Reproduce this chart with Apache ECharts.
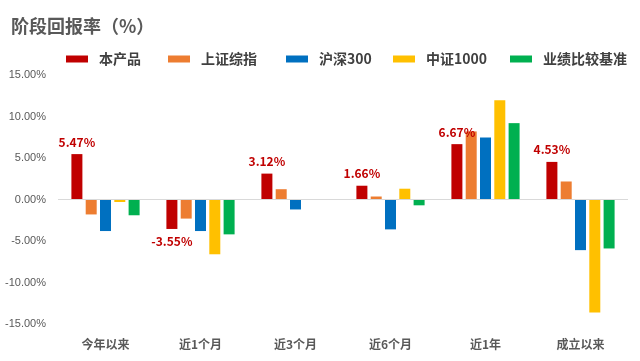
<!DOCTYPE html>
<html><head><meta charset="utf-8">
<script src="https://cdn.jsdelivr.net/npm/echarts@6/dist/echarts.min.js"></script>
<style>html,body{margin:0;padding:0;background:#fff}#c{width:640px;height:361px}</style>
</head><body><div id="c"></div>
<script>
const categories = ['今年以来','近1个月','近3个月','近6个月','近1年','成立以来'];
const seriesNames = ['本产品','上证综指','沪深300','中证1000','业绩比较基准'];
const product = [5.47, -3.55, 3.12, 1.66, 6.67, 4.53];
const shIndex = [-1.8, -2.3, 1.24, 0.36, 8.2, 2.17];
const hs300 = [-3.8, -3.8, -1.2, -3.6, 7.47, -6.1];
const zz1000 = [-0.3, -6.6, 0, 1.3, 11.96, -13.6];
const benchmark = [-1.9, -4.2, 0, -0.7, 9.2, -5.9];
const yTicks = {min: -15, max: 15, interval: 5};
const colors = ['#C00000','#ED7D31','#0070C0','#FFC000','#00B050'];
const allData = [product, shIndex, hs300, zz1000, benchmark];
const legendLefts = [61, 163, 281, 388, 505];
const font = '"Noto Sans CJK SC", "Microsoft YaHei", sans-serif';

const series = allData.map((d, i) => {
  const s = {
    name: seriesNames[i], type: 'bar', data: d, barWidth: 11, barGap: '30%',
    itemStyle: {color: colors[i]}
  };
  if (i === 0) {
    s.label = {
      show: true, color: '#C00000', fontWeight: 'bold', fontSize: 12, fontFamily: font,
      position: 'top', distance: 6,
      formatter: p => p.value.toFixed(2) + '%'
    };
    s.data = d.map(v => ({value: v, label: {position: v < 0 ? 'bottom' : 'top'}}));
    s.markLine = {silent: true, symbol: 'none', label: {show: false},
      lineStyle: {color: '#d9d9d9', type: 'solid', width: 1}, data: [{yAxis: 0}]};
  }
  return s;
});

const legends = seriesNames.map((n, i) => ({
  data: [n], left: legendLefts[i], top: 47, itemWidth: 22, itemHeight: 7, icon: 'rect',
  textStyle: {fontSize: 14, fontWeight: 'bold', color: '#404040', fontFamily: font, padding: [0, 0, 0, 6]}
}));

const chart = echarts.init(document.getElementById('c'));
chart.setOption({
  animation: false,
  title: {text: '阶段回报率（%）', left: 6, top: 12,
    textStyle: {fontSize: 18, fontWeight: 'bold', color: '#595959', fontFamily: font}},
  legend: legends,
  grid: {left: 58, right: 12, top: 75, bottom: 37},
  xAxis: {type: 'category', data: categories,
    axisLine: {show: false}, axisTick: {show: false},
    axisLabel: {margin: 14, fontSize: 12, fontWeight: 'bold', color: '#595959', fontFamily: font}},
  yAxis: {type: 'value', min: yTicks.min, max: yTicks.max, interval: yTicks.interval,
    splitLine: {show: false}, axisLine: {show: false}, axisTick: {show: false},
    axisLabel: {margin: 12, fontSize: 11, color: '#595959', fontFamily: 'sans-serif',
      formatter: v => v.toFixed(2) + '%'}},
  series: series
});
</script></body></html>
